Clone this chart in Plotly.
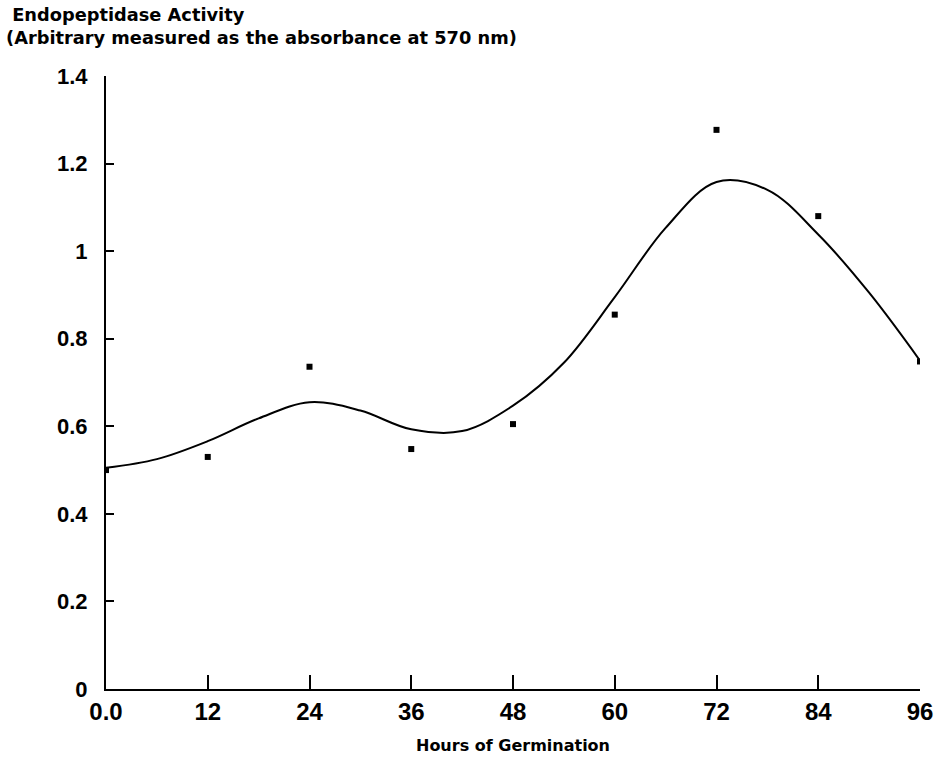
import plotly.graph_objects as go

# Observed data points
hours = [0, 12, 24, 36, 48, 60, 72, 84, 96]
activity = [0.50, 0.53, 0.736, 0.548, 0.605, 0.855, 1.277, 1.08, 0.748]

# Smoothed fitted curve (every 6 h)
fit_hours = [0, 6, 12, 18, 24, 30, 36, 42, 48, 54, 60, 66, 72, 78, 84, 90, 96]
fit_values = [0.505, 0.525, 0.566, 0.618, 0.655, 0.636, 0.593, 0.589, 0.647, 0.745,
              0.895, 1.053, 1.158, 1.14, 1.038, 0.905, 0.75]

x_ticks = [0, 12, 24, 36, 48, 60, 72, 84, 96]
x_tick_labels = ["0.0", "12", "24", "36", "48", "60", "72", "84", "96"]
y_ticks = [0, 0.2, 0.4, 0.6, 0.8, 1.0, 1.2, 1.4]
y_tick_labels = ["0", "0.2", "0.4", "0.6", "0.8", "1", "1.2", "1.4"]

FONT = "Liberation Sans, Arial, Helvetica, sans-serif"
WIDE = "DejaVu Sans, Liberation Sans, sans-serif"

fig = go.Figure()
fig.add_trace(go.Scatter(
    x=fit_hours, y=fit_values, mode="lines",
    line=dict(color="black", width=2, shape="spline", smoothing=1.0),
    hoverinfo="skip", showlegend=False,
))
fig.add_trace(go.Scatter(
    x=hours, y=activity, mode="markers",
    marker=dict(symbol="square", size=6, color="black"),
    showlegend=False,
))

fig.update_layout(
    width=945, height=764,
    margin=dict(l=106, r=19, t=76, b=73),
    paper_bgcolor="white", plot_bgcolor="white",
    font=dict(family=FONT, color="black"),
    xaxis=dict(
        range=[0, 96], tickvals=x_ticks, ticktext=x_tick_labels,
        showline=True, linecolor="black", linewidth=2, mirror=False,
        ticks="inside", ticklen=14, tickwidth=1.5, tickcolor="black",
        showgrid=False, zeroline=False,
        tickfont=dict(family=FONT, size=24, weight="bold"),
        ticklabelstandoff=0,
        title=dict(text="Hours of Germination", font=dict(family=WIDE, size=16, weight="bold"), standoff=16),
    ),
    yaxis=dict(
        range=[0, 1.4], tickvals=y_ticks, ticktext=y_tick_labels,
        showline=True, linecolor="black", linewidth=2, mirror=False,
        ticks="inside", ticklen=8, tickwidth=1.5, tickcolor="black",
        showgrid=False, zeroline=False,
        tickfont=dict(family=FONT, size=22, weight="bold"),
        ticklabelstandoff=12,
    ),
    annotations=[
        dict(text="\u00a0Endopeptidase Activity<br>(Arbitrary measured as the absorbance at 570 nm)",
             xref="paper", yref="paper", align="left",
             x=(3 - 106) / 820, y=(691 - 26) / 615, xanchor="left", yanchor="middle",
             showarrow=False, font=dict(family=WIDE, size=17.8, weight="bold")),
    ],
)

fig.write_html("out.html")
